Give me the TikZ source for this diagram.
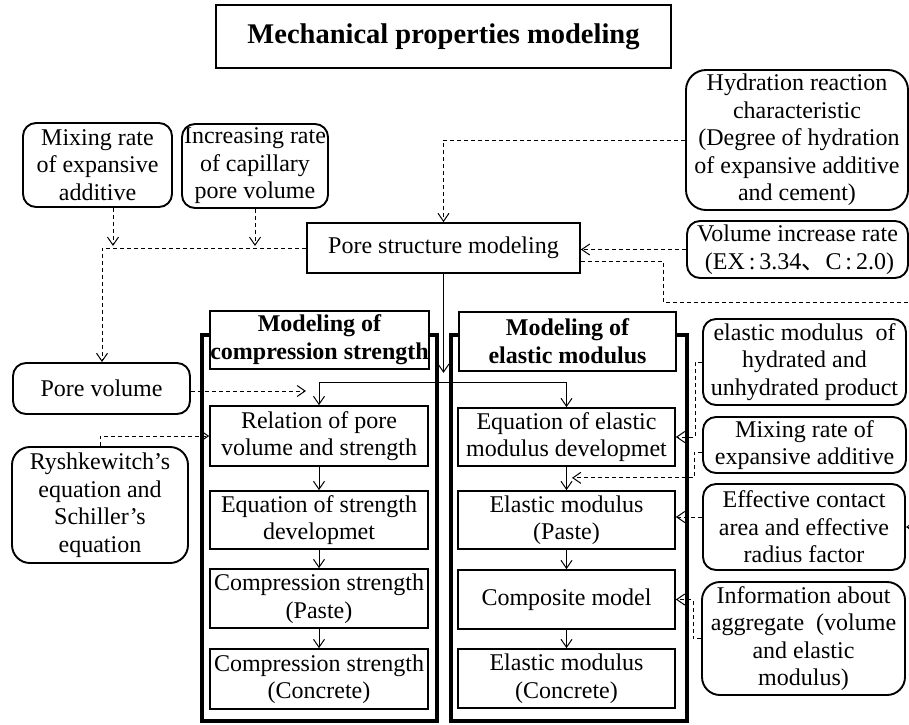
\documentclass[tikz,border=0pt]{standalone}
\usepackage{fontspec}
\setmainfont{Liberation Serif}
\newfontfamily\cjkfont{Noto Sans CJK JP}
\usetikzlibrary{arrows.meta,calc}
\begin{document}
\begin{tikzpicture}[x=1pt,y=-1pt,
  font=\fontsize{24}{27.5}\selectfont,
  >={Straight Barb[length=8pt,width=11pt]},
  sbox/.style={draw, line width=1.7pt, fill=white, inner sep=0pt, align=center},
  rbox/.style={sbox, rounded corners=13pt, line width=1.9pt},
  hbox/.style={sbox, font=\fontsize{24}{28}\selectfont\bfseries},
  cont/.style={draw, line width=3.5pt, inner sep=0pt},
  conn/.style={line width=1pt},
  dconn/.style={line width=1pt, dash pattern=on 4pt off 3pt},
]
\clip (0,0) rectangle (909,724);
\fill[white] (0,0) rectangle (909,724);

% title
\node[sbox, minimum width=455pt, minimum height=63pt, font=\fontsize{28.5}{32}\selectfont\bfseries] (title) at (443.5,36.5) {Mechanical properties modeling};

% top-left inputs
\node[rbox, minimum width=149pt, minimum height=84pt] (mixA) at (97.5,165) {Mixing rate\\of expansive\\additive};
\node[rbox, minimum width=146pt, minimum height=84pt] (incr) at (255,166) {Increasing rate\\of capillary\\pore volume};

% right top inputs
\node[rbox, minimum width=222pt, minimum height=140pt, rounded corners=20pt] (hydr) at (797,140) {Hydration reaction\\characteristic\\\,(Degree of hydration\\of expansive additive\\and cement)};
\node[rbox, minimum width=221pt, minimum height=57pt] (vol) at (797.5,249.5) {Volume increase rate\\\,(EX\,:\,3.34{\cjkfont 、}C\,:\,2.0)};

% pore structure
\node[sbox, minimum width=273pt, minimum height=50pt] (pore) at (443.5,248) {Pore structure modeling};

% left inputs
\node[rbox, minimum width=177pt, minimum height=51pt] (porevol) at (101.5,388.5) {Pore volume};
\node[rbox, minimum width=176pt, minimum height=116pt, rounded corners=18pt] (rysh) at (100,505) {Ryshkewitch’s\\equation and\\Schiller’s\\equation};

% containers
\node[cont, minimum width=235pt, minimum height=386pt] (lcont) at (319.5,528) {};
\node[cont, minimum width=236pt, minimum height=386pt] (rcont) at (569,528) {};

% headers
\node[hbox, minimum width=217pt, minimum height=58pt] (lhead) at (319.5,340) {Modeling of\\compression strength};
\node[hbox, minimum width=217pt, minimum height=59pt] (rhead) at (567.5,341.5) {Modeling of\\elastic modulus};

% left column
\node[sbox, minimum width=218pt, minimum height=60pt] (rel) at (319,436) {Relation of pore\\volume and strength};
\node[sbox, minimum width=218pt, minimum height=58pt] (eqs) at (319,520) {Equation of strength\\developmet};
\node[sbox, minimum width=218pt, minimum height=59pt] (csp) at (319,598.5) {Compression strength\\(Paste)};
\node[sbox, minimum width=218pt, minimum height=60pt] (csc) at (319,679) {Compression strength\\(Concrete)};

% right column
\node[sbox, minimum width=217pt, minimum height=58pt] (eqe) at (566.5,437) {Equation of elastic\\modulus developmet};
\node[sbox, minimum width=217pt, minimum height=58pt] (emp) at (566.5,520) {Elastic modulus\\(Paste)};
\node[sbox, minimum width=217pt, minimum height=59pt] (comp) at (566.5,599.5) {Composite model};
\node[sbox, minimum width=217pt, minimum height=59pt] (emc) at (566.5,678.5) {Elastic modulus\\(Concrete)};

% right inputs
\node[rbox, minimum width=203pt, minimum height=86pt] (hyde) at (804.5,362) {elastic modulus\ \ of\\hydrated and\\unhydrated product};
\node[rbox, minimum width=203pt, minimum height=56pt] (mixb) at (804.5,445) {Mixing rate of\\expansive additive};
\node[rbox, minimum width=202pt, minimum height=86pt] (eff) at (804,527) {Effective contact\\area and effective\\radius factor};
\node[rbox, minimum width=203pt, minimum height=113pt, rounded corners=18pt] (info) at (803.5,638.5) {Information about\\aggregate\ \ (volume\\and elastic\\modulus)};

% connectors top
\draw[dconn,->] ($(mixA.south)+(15.5,0)$) -- ++(0,38);
\draw[dconn,->] (incr.south) -- ++(0,37);
\draw[dconn,->] (pore.west) -| ($(porevol.north)+(0.5,0)$);
\draw[dconn,->] (hydr.west) -| (pore.north);
\draw[dconn,->] (vol.west) -- (vol.west -| pore.east);
\coordinate (offr) at (940,302);
\draw[dconn] ($(pore.east)+(0,13)$) -- (663,261) |- (offr);
\draw[conn,->] (pore.south) -- ++(0,99);

% distributor
\coordinate (dist) at ($(eqe.north)+(0,-25)$);
\draw[conn,->] (dist) -| (rel.north);
\draw[conn,->] (dist) -- (eqe.north);

% left side inputs
\draw[dconn,->] ($(porevol.east)+(0,2.5)$) -- ++(115,0);
\draw[dconn,->] (rysh.north) |- (rel.west);

% chains
\draw[conn,->] (rel.south) -- (eqs.north);
\draw[conn,->] (eqs.south) -- (csp.north);
\draw[conn,->] (csp.south) -- (csc.north);
\draw[conn,->] (eqe.south) -- (emp.north);
\draw[conn,->] (emp.south) -- (comp.north);
\draw[conn,->] (comp.south) -- (emc.north);

% right inputs
\draw[dconn,->] (hyde.west) -- ++(-7,0) |- (eqe.east);
\coordinate (mxt) at ($(eqe.south)+(5.5,11)$);
\draw[dconn,->] ($(mixb.west)+(0,7)$) -- ++(-8,0) |- (mxt);
\draw[dconn,->] ($(eff.west)+(0,-10)$) -- ($(emp.east)+(0,-3)$);
\draw[dconn,->] (info.west) -- ++(-8,0) |- (comp.east);
\coordinate (effr) at (940,527);
\draw[dconn,->] (effr) -- (eff.east);
\end{tikzpicture}
\end{document}
